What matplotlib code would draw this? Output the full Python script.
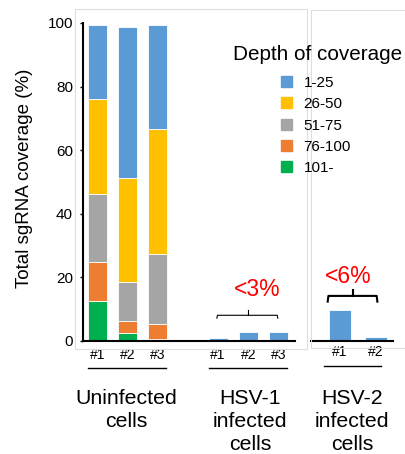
import matplotlib
matplotlib.use("Agg")
import matplotlib.pyplot as plt
from matplotlib.patches import Patch, Rectangle
import numpy as np

plt.rcParams['font.family'] = ['Liberation Sans', 'DejaVu Sans']

# coverage bins, stacked from the bottom up
bins = ['101-', '76-100', '51-75', '26-50', '1-25']
colors = ['#00B050', '#ED7D31', '#A5A5A5', '#FFC000', '#5B9BD5']

# left panel: uninfected #1-#3, HSV-1 #1-#3 (percent per bin)
left_labels = ['#1', '#2', '#3', '#1', '#2', '#3']
left_pos = [0, 1, 2, 4, 5, 6]
left_vals = {
    '101-':   [12.6, 2.3, 0.6, 0, 0, 0],
    '76-100': [12.2, 4.0, 4.7, 0, 0, 0],
    '51-75':  [21.5, 12.3, 22.0, 0, 0, 0],
    '26-50':  [29.7, 32.6, 39.2, 0, 0, 0],
    '1-25':   [23.5, 47.6, 32.8, 0.9, 2.8, 2.6],
}

# right panel: HSV-2 #1-#2
right_labels = ['#1', '#2']
right_pos = [0, 1]
right_vals = {
    '101-':   [0, 0],
    '76-100': [0, 0],
    '51-75':  [0, 0],
    '26-50':  [0, 0],
    '1-25':   [9.8, 1.1],
}

W, H = 406, 454
fig = plt.figure(figsize=(W / 100, H / 100), dpi=100)

def fx(px):
    return px / W

def fy(py):
    return 1 - py / H

# light panel frames
fig.patches.append(Rectangle((fx(75), fy(349)), fx(307) - fx(75), fy(9) - fy(349),
                             transform=fig.transFigure, fill=False, ec='#dddddd', lw=0.8))
fig.patches.append(Rectangle((fx(311), fy(348)), fx(420) - fx(311), fy(10) - fy(348),
                             transform=fig.transFigure, fill=False, ec='#dddddd', lw=0.8))

ax = fig.add_axes([fx(82.7), fy(340.7), fx(295) - fx(82.7), fy(23) - fy(340.7)])
ax2 = fig.add_axes([fx(311), fy(340.7), fx(393) - fx(311), fy(23) - fy(340.7)])

def stack(a, pos, vals, width):
    bottom = np.zeros(len(pos))
    for b, c in zip(bins, colors):
        v = np.array(vals[b], dtype=float)
        a.bar(pos, v, width, bottom=bottom, color=c, edgecolor='white', linewidth=0.6)
        bottom += v

stack(ax, left_pos, left_vals, 0.63)
stack(ax2, right_pos, right_vals, 0.62)

for a in (ax, ax2):
    a.set_ylim(0, 100)
    for s in ('top', 'right'):
        a.spines[s].set_visible(False)
    a.spines['bottom'].set_linewidth(1.5)
    a.set_facecolor('none')

ax.set_xlim(-0.49, 6.55)
ax.set_xticks(left_pos)
ax.set_xticklabels(left_labels)
ax.tick_params(axis='x', length=0, pad=5, labelsize=10)
ax.set_yticks(range(0, 101, 20))
ax.tick_params(axis='y', length=2.5, width=1, pad=4.5, labelsize=11)
ax.spines['left'].set_linewidth(1.5)

ax2.set_xlim(-0.82, 1.49)
ax2.set_xticks(right_pos)
ax2.set_xticklabels(right_labels)
ax2.tick_params(axis='x', length=0, pad=3, labelsize=10)
ax2.spines['left'].set_visible(False)
ax2.set_yticks([])

fig.text(fx(25), fy(178.5), 'Total sgRNA coverage (%)', rotation=90,
         ha='center', va='center', fontsize=13.5)

# brackets and annotations
ax.plot([3.96, 3.98, 5.96, 5.98], [7.1, 8.0, 8.0, 7.1], color='black', lw=0.8)
ax.plot([4.99, 4.99], [8.0, 9.7], color='black', lw=0.8)
ax.text(5.29, 14.0, '<3%', color='red', fontsize=16.5, ha='center', va='baseline')

ax2.plot([-0.35, -0.33, 1.03, 1.05], [12.3, 14.1, 14.1, 12.3], color='black', lw=1.5)
ax2.plot([0.35, 0.35], [14.1, 16.0], color='black', lw=1.5)
ax2.text(0.234, 18.2, '<6%', color='red', fontsize=16.5, ha='center', va='baseline')

# group underlines
ax.plot([-0.31, 2.27], [-8.6, -8.6], color='black', lw=1, clip_on=False)
ax.plot([3.69, 6.28], [-8.6, -8.6], color='black', lw=1, clip_on=False)
ax2.plot([-0.45, 1.15], [-8.0, -8.0], color='black', lw=1, clip_on=False)

# group names (baseline of the last line)
groups = ['Uninfected\ncells', 'HSV-1\ninfected\ncells', 'HSV-2\ninfected\ncells']
group_x = [126, 250, 352]
group_y = [426.9, 450.5, 450.5]
for g, x, y in zip(groups, group_x, group_y):
    fig.text(fx(x), fy(y), g, ha='center', va='baseline', fontsize=15.3, linespacing=1.27)

# legend
fig.text(fx(317.5), fy(60), 'Depth of coverage', ha='center', va='baseline', fontsize=14.9)
handles = [Patch(color=c) for c in colors[::-1]]
fig.legend(handles, bins[::-1], loc='upper left', bbox_to_anchor=(fx(281), fy(76)),
           frameon=False, borderpad=0, borderaxespad=0,
           fontsize=11, handlelength=0.72, handleheight=0.72,
           handletextpad=0.75, labelspacing=0.475)

fig.savefig('out.png', dpi=100)
